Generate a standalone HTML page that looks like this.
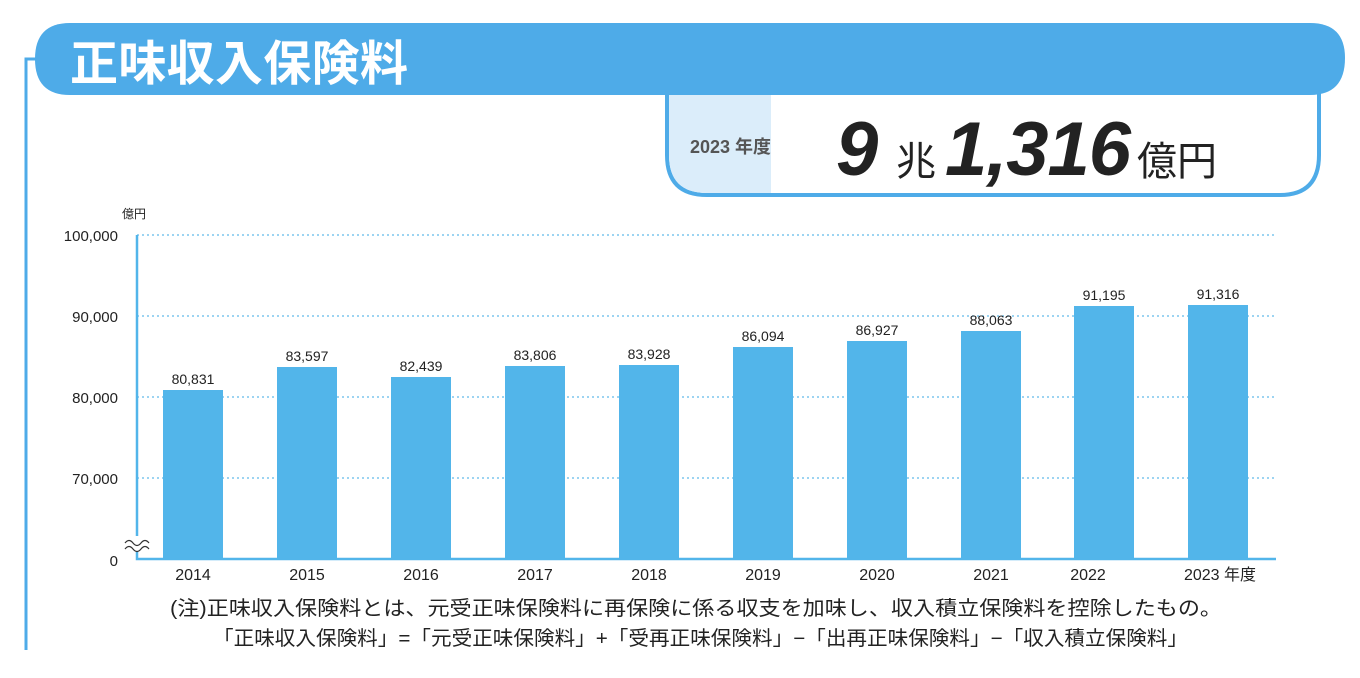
<!DOCTYPE html>
<html><head><meta charset="utf-8"><style>
body{margin:0;background:#fff;}
svg text{font-family:"Liberation Sans","Noto Sans CJK JP",sans-serif;}
</style></head><body>
<svg width="1360" height="673" viewBox="0 0 1360 673" xmlns="http://www.w3.org/2000/svg">
<path d="M26 650 V59 H40" fill="none" stroke="#4eabe8" stroke-width="3"/>
<path d="M667 80 V155 Q667 195 707 195 H1280 Q1319 195 1319 155 V80" fill="#fff" stroke="#4eabe8" stroke-width="4"/>
<path d="M669 95 H771 V193 H707 Q669 193 669 155 Z" fill="#dbedfa"/>
<path d="M70 23 H1310 Q1345 23 1345 58 Q1345 95 1310 95 H70 Q35 95 35 59 Q35 23 70 23 Z" fill="#4eabe8"/>
<text x="70" y="80" font-size="48" font-weight="bold" fill="#fff" font-family="'Noto Sans CJK JP',sans-serif" textLength="338">正味収入保険料</text>
<text x="690" y="153" font-size="18" font-weight="bold" fill="#555">2023 年度</text>
<text x="836" y="175" font-size="76" font-weight="bold" font-style="italic" fill="#222">9</text>
<text x="896" y="175" font-size="40" fill="#222">兆</text>
<text x="945" y="175" font-size="76" font-weight="bold" font-style="italic" fill="#222" textLength="186">1,316</text>
<text x="1137" y="175" font-size="40" fill="#222">億円</text>
<g stroke="#7cc6ee" stroke-width="1.5" stroke-dasharray="2 3">
<line x1="137" y1="235" x2="1276" y2="235"/>
<line x1="137" y1="316" x2="1276" y2="316"/>
<line x1="137" y1="397" x2="1276" y2="397"/>
<line x1="137" y1="478" x2="1276" y2="478"/>
</g>
<g font-size="15" fill="#222" text-anchor="end">
<text x="118" y="241">100,000</text>
<text x="118" y="322">90,000</text>
<text x="118" y="403">80,000</text>
<text x="118" y="484">70,000</text>
<text x="118" y="566">0</text>
</g>
<text x="122" y="218" font-size="12" fill="#222">億円</text>
<g fill="#52b5ea">
<rect x="163" y="390" width="60" height="169"/>
<rect x="277" y="367" width="60" height="192"/>
<rect x="391" y="377" width="60" height="182"/>
<rect x="505" y="366" width="60" height="193"/>
<rect x="619" y="365" width="60" height="194"/>
<rect x="733" y="347" width="60" height="212"/>
<rect x="847" y="341" width="60" height="218"/>
<rect x="961" y="331" width="60" height="228"/>
<rect x="1074" y="306" width="60" height="253"/>
<rect x="1188" y="305" width="60" height="254"/>
</g>
<g font-size="14" fill="#222" text-anchor="middle">
<text x="193" y="384">80,831</text>
<text x="307" y="361">83,597</text>
<text x="421" y="371">82,439</text>
<text x="535" y="360">83,806</text>
<text x="649" y="359">83,928</text>
<text x="763" y="341">86,094</text>
<text x="877" y="335">86,927</text>
<text x="991" y="325">88,063</text>
<text x="1104" y="300">91,195</text>
<text x="1218" y="299">91,316</text>
</g>
<path d="M137 235 V559 H1276" fill="none" stroke="#52b5ea" stroke-width="2.5"/>
<rect x="122" y="536" width="30" height="16" fill="#fff"/>
<path d="M125 543 q4 -5 8 0 t8 0 t8 0 M125 549 q4 -5 8 0 t8 0 t8 0" fill="none" stroke="#333" stroke-width="1.2"/>
<g font-size="16" fill="#222" text-anchor="middle">
<text x="193" y="580">2014</text>
<text x="307" y="580">2015</text>
<text x="421" y="580">2016</text>
<text x="535" y="580">2017</text>
<text x="649" y="580">2018</text>
<text x="763" y="580">2019</text>
<text x="877" y="580">2020</text>
<text x="991" y="580">2021</text>
<text x="1088" y="580">2022</text>
<text x="1220" y="580">2023 年度</text>
</g>
<text x="170" y="615" font-size="20" fill="#222" textLength="1052" lengthAdjust="spacingAndGlyphs">(注)正味収入保険料とは、元受正味保険料に再保険に係る収支を加味し、収入積立保険料を控除したもの。</text>
<text x="213" y="645" font-size="20" fill="#222" textLength="975" lengthAdjust="spacingAndGlyphs">「正味収入保険料」=「元受正味保険料」+「受再正味保険料」−「出再正味保険料」−「収入積立保険料」</text>
</svg>
</body></html>
